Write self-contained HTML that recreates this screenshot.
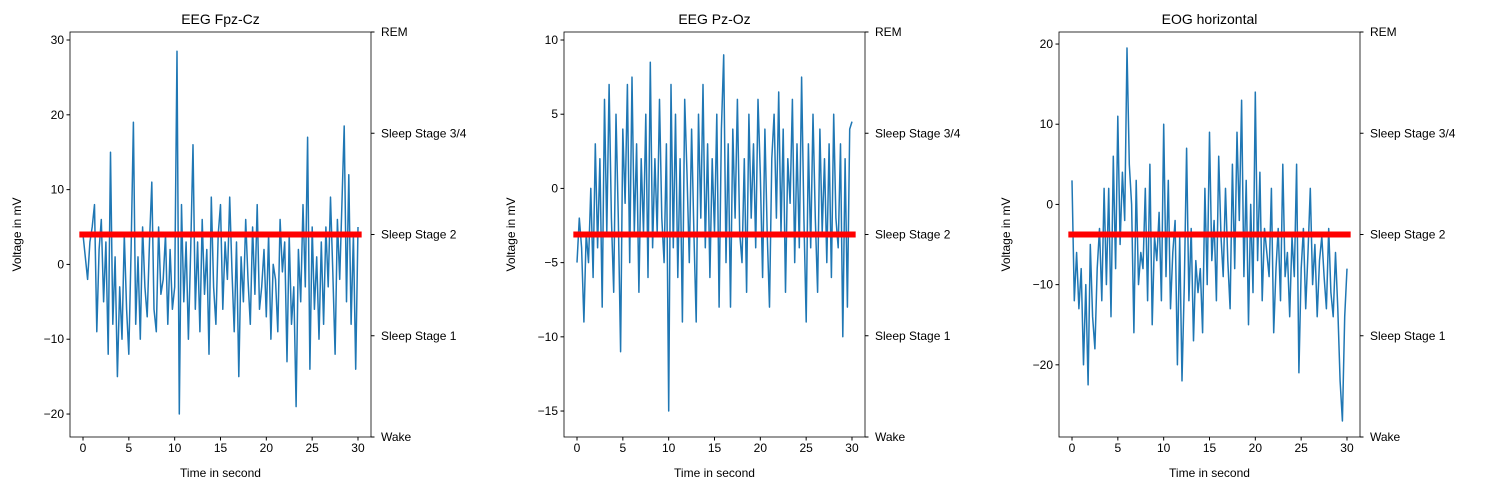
<!DOCTYPE html>
<html><head><meta charset="utf-8"><style>
body{margin:0;background:#fff;}
svg{font-family:"Liberation Sans","DejaVu Sans",sans-serif;}
</style></head><body>
<svg id="chart" width="1489" height="490" xmlns="http://www.w3.org/2000/svg"></svg>
<script>
const times = Array.from({length:121},(_, i)=>i*0.25);
const fpzValues = [4,1,-2,3,5,8,-9,2, 6,-5,3,-12,15,-8,1,-15, -3,-10,4,-6,-12,2,19,-8, 1,-10,5,-3,-7,3,11,-6, -9,5,-4,-2,4,-8,2,-6, -3,28.5,-20,8,-5,3,-10,2, 16,-6,3,-9,6,-4,2,-12, 9,-3,-8,4,8,-6,3,-2, 9,-1,-9,3,-15,1,-5,6, -2,-8,5,-4,8,-6,-3,2, -7,4,-10,0,-2,-9,6,-1, 3,-13,4,-8,-3,-19,2,-5, 8,-3,17,-14,5,-6,1,-10, 3,-8,5,-3,9,-1,-12,6, -2,8,18.5,-5,12,-8,4,-14, 5];
const pzValues = [-5,-2,-4,-9,-3,-5,0,-6, 3,-4,2,-8,6,-3,7,-2, -7,5,-2,-11,4,-1,7,-5, 7.5,-3,3,-7,2,-3,5,-6, 8.5,-4,2,-3,6,-2,-5,3, -15,7,-4,5,-6,2,-9,6, 1,-5,4,-3,-9,5,-2,7, -4,3,-6,2,-3,5,-8,4, 9,-5,3,-8,4,-2,6,-3, -5,2,-7,5,-2,3,-4,6, 1,-6,4,-3,-8,2,5,-2, 6.5,-3,4,-7,2,-1,6,-5, 3,-4,7.5,-2,-9,3,-4,5, -2,-7,4,-3,2,-5,3,-6, 5,-2,-4,3,-10,2,-8,4, 4.5];
const eogValues = [3,-12,-6,-13,-8,-20,-10,-22.5, -5,-14,-18,-8,-3,-12,2,-10, 2,-14,6,-8,11,-5,4,-2, 19.5,5,0,-16,3,-10,-6,-8, 2,-12,5,-15,-4,-7,-1,-12, 10,-9,3,-13,-6,-2,-20,-4, -22,-10,7,-12,-3,-17,-7,-11, -8,-16,2,-10,9,-7,-2,-12, 6,-4,-9,2,-7,-13,5,-8, 9,-2,13,-9,3,-15,0,-11, 14,-7,4,-12,-3,-6,-9,2, -16,-8,-3,-12,5,-9,-6,-14, -4,-9,5,-21,-8,-3,-13,-6, 2,-10,-5,-14,-7,-4,-9,-13, -3,-11,-14,-6,-13,-22,-27,-14, -8];
const titles = ["EEG Fpz-Cz","EEG Pz-Oz","EOG horizontal"];
const xTicks = [0,5,10,15,20,25,30];
const yTicks1 = [-20,-10,0,10,20,30];
const yTicks2 = [-15,-10,-5,0,5,10];
const yTicks3 = [-20,-10,0,10,20];
const stageLabels = ["Wake","Sleep Stage 1","Sleep Stage 2","Sleep Stage 3/4","REM"];
const stageValue = [2,2,2];

const NS="http://www.w3.org/2000/svg";
const svg=document.getElementById('chart');
function mk(tag,attrs,parent){const e=document.createElementNS(NS,tag);for(const k in attrs)e.setAttribute(k,attrs[k]);(parent||svg).appendChild(e);return e;}
const panels=[
 {left:70,vals:fpzValues,ymin:-23.07,ymax:31.07,ticks:yTicks1},
 {left:564,vals:pzValues,ymin:-16.75,ymax:10.54,ticks:yTicks2},
 {left:1059,vals:eogValues,ymin:-29.0,ymax:21.5,ticks:yTicks3}];
const plotTop=32,plotBottom=437,W=301;
panels.forEach((p,pi)=>{
  const g=mk('g',{});
  
  
  const xs=t=>p.left+W*(t+1.42)/32.84;
  const ys=v=>plotBottom-(plotBottom-plotTop)*(v-p.ymin)/(p.ymax-p.ymin);
  const ys2=v=>plotBottom-(plotBottom-plotTop)*v/4;
  let d='';p.vals.forEach((v,i)=>{d+=(i?'L':'M')+xs(times[i]).toFixed(1)+','+ys(v).toFixed(1);});
  const line=mk('path',{d:d,fill:'none',stroke:'#1f77b4','stroke-width':1.5,'stroke-linejoin':'round'},g);
  
  
  const red=mk('line',{x1:xs(-0.4),x2:xs(30.4),y1:ys2(stageValue[pi]),y2:ys2(stageValue[pi]),stroke:'#ff0000','stroke-width':6},g);
  
  
  const box=mk('rect',{x:p.left,y:plotTop,width:W,height:plotBottom-plotTop,fill:'none',stroke:'#000','stroke-width':0.8},g);
  
  
  xTicks.forEach(t=>{const x=xs(t);mk('line',{x1:x,x2:x,y1:plotBottom,y2:plotBottom+3.5,stroke:'#000'},g);
    const tx=mk('text',{x:x,y:plotBottom+15,'font-size':12,'text-anchor':'middle'},g);tx.textContent=t;
    });
  p.ticks.forEach(t=>{const y=ys(t);mk('line',{x1:p.left-3.5,x2:p.left,y1:y,y2:y,stroke:'#000'},g);
    const tx=mk('text',{x:p.left-6,y:y+4,'font-size':12,'text-anchor':'end'},g);tx.textContent=(t<0?'\u2212'+(-t):t);
    });
  stageLabels.forEach((s,i)=>{const y=ys2(i);mk('line',{x1:p.left+W,x2:p.left+W+3.5,y1:y,y2:y,stroke:'#000'},g);
    const tx=mk('text',{x:p.left+W+10,y:y+4,'font-size':12},g);tx.textContent=s;
    });
  const ti=mk('text',{x:p.left+W/2,y:24,'font-size':14,'text-anchor':'middle'},g);ti.textContent=titles[pi];
  
  const xl=mk('text',{x:p.left+W/2,y:477,'font-size':12,'text-anchor':'middle'},g);xl.textContent='Time in second';
  
  const yl=mk('text',{x:0,y:0,'font-size':12,'text-anchor':'middle',transform:`translate(${p.left-49},${(plotTop+plotBottom)/2}) rotate(-90)`},g);yl.textContent='Voltage in mV';
  
});
</script>
</body></html>
